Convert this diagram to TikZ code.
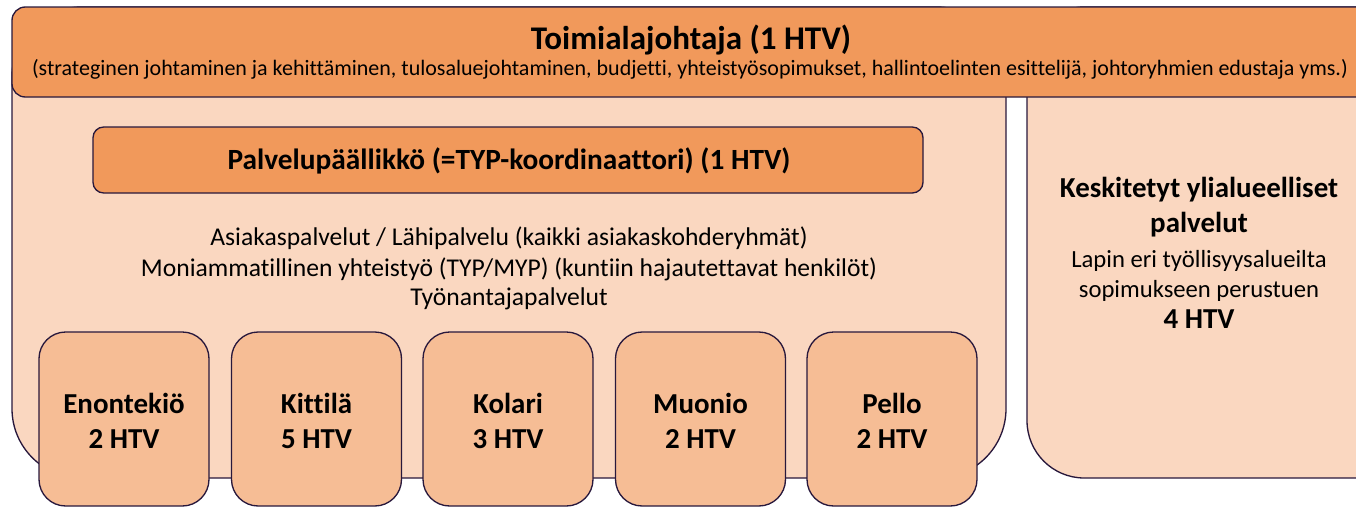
\documentclass[tikz,border=0pt]{standalone}
\usepackage{fontspec}
\setmainfont[Ligatures={NoCommon}]{Carlito}
\definecolor{hdr}{RGB}{241,153,91}
\definecolor{light}{RGB}{250,215,192}
\definecolor{muni}{RGB}{246,189,149}
\definecolor{bord}{RGB}{40,24,60}
\begin{document}
\begin{tikzpicture}[x=0.75pt,y=-0.75pt,
  boxline/.style={draw=bord, line width=1pt},
  munibox/.style={boxline, fill=muni, rounded corners=20pt, minimum width=127.5pt, minimum height=130.5pt, inner sep=0pt},
  titletxt/.style={anchor=base, font=\fontsize{24.8}{28}\selectfont\bfseries, inner sep=0pt},
  subtxt/.style={anchor=base, font=\fontsize{16.5}{19}\selectfont, inner sep=0pt},
  boldtxt/.style={anchor=base, font=\fontsize{21.7}{26}\selectfont\bfseries, inner sep=0pt},
  midtxt/.style={anchor=base, font=\fontsize{19.2}{22}\selectfont, inner sep=0pt},
  righttxt/.style={anchor=base, font=\fontsize{18.5}{22}\selectfont, inner sep=0pt},
  paltxt/.style={anchor=base, font=\fontsize{22}{26}\selectfont\bfseries, inner sep=0pt}]
\useasboundingbox (0,0) rectangle (1356,507);
\clip (0,0) rectangle (1356,507);
% containers
\draw[boxline, fill=light, rounded corners=52pt] (12,7) rectangle (1006,478);
\draw[boxline, fill=light, rounded corners=43pt] (1027,7) rectangle (1420,478);
\draw[boxline, fill=hdr, rounded corners=10pt] (12,7) rectangle (1420,97);
% header text
\node[titletxt] (title) at (691,49) {Toimialajohtaja (1 HTV)};
\node[subtxt] (sub) at (690,75) {(strateginen johtaminen ja kehittäminen, tulosaluejohtaminen, budjetti, yhteistyösopimukset, hallintoelinten esittelijä, johtoryhmien edustaja yms.)};
% palvelupaallikko
\node[boxline, fill=hdr, rounded corners=8pt, minimum width=622.5pt, minimum height=49.5pt, inner sep=0pt] (pal) at (508,160) {};
\node[paltxt] (paltext) at (509,169) {Palvelupäällikkö (=TYP-koordinaattori) (1 HTV)};
% middle lines
\node[midtxt] (m1) at (509,245) {Asiakaspalvelut / Lähipalvelu (kaikki asiakaskohderyhmät)};
\node[midtxt] (m2) at (509,276) {Moniammatillinen yhteistyö (TYP/MYP) (kuntiin hajautettavat henkilöt)};
\node[midtxt] (m3) at (509,305) {Työnantajapalvelut};
% right box text
\node[boldtxt] (r1) at (1199,197) {Keskitetyt ylialueelliset};
\node[boldtxt] (r2) at (1199,232) {palvelut};
\node[righttxt] (r3) at (1199,267) {Lapin eri työllisyysalueilta};
\node[righttxt] (r4) at (1199,297) {sopimukseen perustuen};
\node[boldtxt] (r5) at (1199,328) {4 HTV};
% municipalities
\foreach \cx/\nm/\n/\htv in {124/enon/Enontekiö/2, 316.5/kitt/Kittilä/5, 508/kola/Kolari/3, 700.5/muon/Muonio/2, 892/pell/Pello/2}{
  \node[munibox] (\nm) at (\cx,419) {};
  \node[boldtxt] (\nm-a) at (\cx,413) {\n};
  \node[boldtxt] (\nm-b) at (\cx,448) {\htv{} HTV};
}
\end{tikzpicture}
\end{document}
